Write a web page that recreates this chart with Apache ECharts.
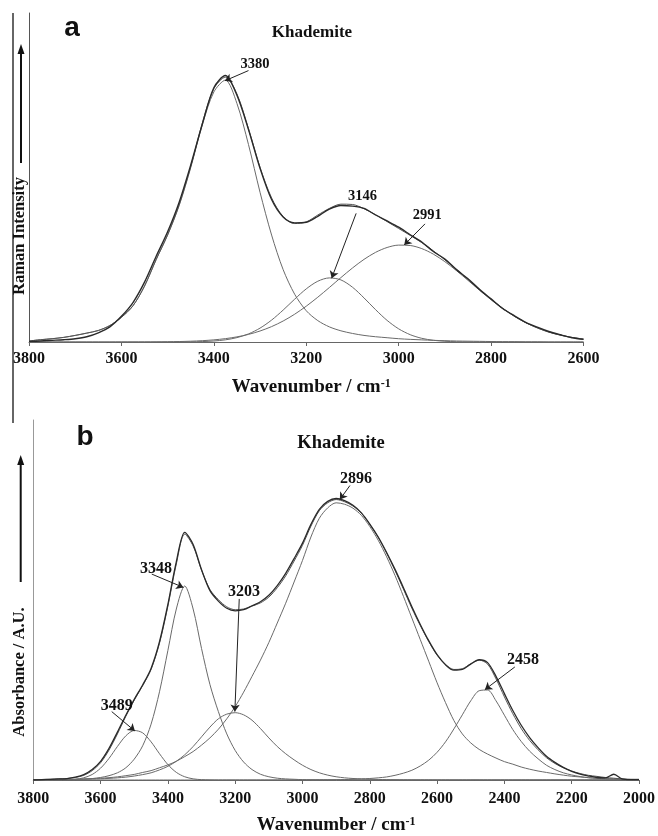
<!DOCTYPE html>
<html>
<head>
<meta charset="utf-8">
<script src="https://cdn.jsdelivr.net/npm/echarts@6/dist/echarts.min.js"></script>
<style>
html,body{margin:0;padding:0;background:#fff;}
#chart{width:658px;height:836px;}
</style>
</head>
<body>
<div id="chart"></div>
<script>
// ---------- Panel a : Raman spectrum ----------
const wavenumberA = [3800,3775,3750,3725,3700,3675,3650,3625,3600,3575,3550,3525,3500,3475,3450,3425,3400,3375,3350,3325,3300,3275,3250,3225,3200,3175,3150,3125,3100,3075,3050,3025,3000,2975,2950,2925,2900,2875,2850,2825,2800,2775,2750,2725,2700,2675,2650,2625,2600];
const ramanObserved = [0.2,0.3,0.5,0.7,1.0,1.6,2.8,4.6,7.8,12.0,18.2,26.0,33.5,42.5,53.8,66.2,77.3,81.0,75.0,64.6,52.8,43.3,38.0,36.2,36.4,38.2,40.4,41.5,41.3,40.6,38.6,36.8,34.9,32.6,30.4,27.5,25.2,22.0,19.2,16.0,13.1,10.2,8.0,6.0,4.5,3.2,2.2,1.3,0.8];
const ramanFit = [0.3,0.7,1.0,1.4,2.0,2.7,3.5,5.0,7.5,11.0,17.0,25.0,32.6,41.7,53.3,66.5,77.0,80.5,75.4,64.8,53.1,43.8,38.1,36.0,36.5,38.6,40.6,41.9,41.8,40.5,38.7,36.6,34.5,32.4,30.2,27.7,25.0,22.1,19.0,15.9,13.0,10.3,7.9,5.9,4.3,3.0,2.1,1.4,0.9];
const band3380 = [0.3,0.7,1.0,1.4,2.0,2.7,3.5,5.0,7.5,11.0,17.0,25.0,32.5,41.5,53.0,66.0,76.0,79.6,72.5,60.0,45.5,32.5,22.0,14.5,9.5,6.5,4.6,3.4,2.6,2.0,1.6,1.3,1.0,0.8,0.65,0.5,0.4,0.3,0.25,0.2,0.15,0.1,0.1,0.05,0.05,0,0,0,0];
const band3146 = [0,0,0,0,0,0,0,0,0,0,0,0,0,0.02,0.05,0.13,0.3,0.66,1.33,2.46,4.22,6.66,9.7,13.03,16.15,18.47,19.48,18.87,16.66,13.4,9.83,6.56,4.0,2.22,1.12,0.52,0.22,0.08,0.03,0.01,0,0,0,0,0,0,0,0,0];
const band2991 = [0,0,0,0,0,0,0,0,0.01,0.01,0.02,0.04,0.08,0.14,0.24,0.4,0.65,1.02,1.56,2.31,3.34,4.68,6.38,8.45,10.89,13.62,16.56,19.58,22.49,25.11,27.25,28.73,29.45,29.33,28.39,26.71,24.42,21.7,18.74,15.73,12.83,10.17,7.83,5.87,4.27,3.02,2.07,1.39,0.9];
const ticksA = [3800,3600,3400,3200,3000,2800,2600];
const peakNamesA = ['3380','3146','2991'];
const peakPosA = [[3376,79.4],[3145,19.4],[2988,29.5]];
const labelPosA = [[3311,84.5],[3078,44.4],[2938,38.4]];
const arrowStartA = [[3325,82.5],[3092,39.1],[2943,35.9]];

// ---------- Panel b : infrared spectrum ----------
const wavenumberB = [3800,3775,3750,3725,3700,3675,3650,3625,3600,3575,3550,3525,3500,3475,3450,3425,3400,3375,3350,3325,3300,3275,3250,3225,3200,3175,3150,3125,3100,3075,3050,3025,3000,2975,2950,2925,2900,2875,2850,2825,2800,2775,2750,2725,2700,2675,2650,2625,2600,2575,2550,2525,2500,2475,2450,2425,2400,2375,2350,2325,2300,2275,2250,2225,2200,2175,2150,2125,2100,2075,2050,2025,2000];
const absObserved = [0.0,0.1,0.2,0.3,0.4,0.8,1.5,2.9,5.2,8.8,13.3,18.0,22.4,26.4,31.0,38.4,48.8,60.6,68.8,65.4,58.4,52.6,49.7,47.7,47.0,47.3,48.4,49.5,51.3,54.0,57.4,61.5,65.8,71.0,75.2,77.4,78.2,77.6,76.3,74.2,71.1,67.5,63.2,58.5,53.4,48.1,43.2,38.7,34.8,32.0,30.5,30.7,32.2,33.4,32.6,28.8,24.0,19.3,15.2,11.8,9.0,6.6,4.9,3.5,2.4,1.6,1.1,0.7,0.6,1.6,0.3,0.1,0.1];
const absFit = [0.1,0.1,0.2,0.3,0.4,0.7,1.3,2.6,4.8,8.3,12.8,17.7,22.2,26.2,30.7,38.0,48.3,60.0,68.3,65.0,58.3,52.9,50.1,48.1,47.3,47.5,48.3,49.2,50.8,53.4,56.7,60.8,65.2,70.5,74.8,77.0,77.9,77.3,76.1,74.1,71.0,67.4,63.0,58.2,53.0,47.7,42.9,38.5,34.7,32.1,30.7,30.9,32.3,33.3,32.2,28.1,23.1,18.4,14.3,11.0,8.4,6.2,4.6,3.4,2.5,1.8,1.3,1.0,0.7,0.5,0.3,0.2,0.2];
const band3489 = [0,0,0.01,0.02,0.06,0.2,0.61,1.53,3.29,6.0,9.31,12.27,13.76,13.1,10.6,7.3,4.27,2.12,0.9,0.32,0.1,0.03,0,0,0,0,0,0,0,0,0,0,0,0,0,0,0,0,0,0,0,0,0,0,0,0,0,0,0,0,0,0,0,0,0,0,0,0,0,0,0,0,0,0,0,0,0,0,0,0,0,0,0];
const band3348 = [0.02,0.03,0.05,0.07,0.1,0.17,0.25,0.4,0.7,1.2,2.0,3.4,5.8,9.5,15.5,24.5,36.0,47.5,53.9,47.5,36.5,26.5,19.0,12.8,8.2,5.0,2.9,1.6,0.9,0.5,0.3,0.2,0.1,0.07,0.05,0.03,0.02,0,0,0,0,0,0,0,0,0,0,0,0,0,0,0,0,0,0,0,0,0,0,0,0,0,0,0,0,0,0,0,0,0,0,0,0];
const band3203 = [0.02,0.03,0.05,0.07,0.1,0.13,0.18,0.25,0.33,0.45,0.6,0.8,1.1,1.5,2.0,2.8,3.8,5.2,7.0,9.3,12.0,14.7,17.0,18.3,18.7,18.1,16.6,14.3,11.7,9.3,7.3,5.6,4.1,2.9,2.0,1.35,0.9,0.6,0.42,0.3,0.2,0.15,0.1,0.07,0.05,0.03,0.02,0.01,0,0,0,0,0,0,0,0,0,0,0,0,0,0,0,0,0,0,0,0,0,0,0,0,0];
const band2896 = [0.05,0.07,0.1,0.12,0.15,0.2,0.3,0.4,0.48,0.65,0.87,1.2,1.55,2.1,2.6,3.4,4.2,5.2,6.5,7.9,9.7,11.7,14.1,17.0,20.4,24.4,28.8,33.3,38.2,43.6,49.1,55.0,61.0,67.5,72.7,75.6,77.0,76.6,75.5,73.5,70.4,66.6,62.0,56.8,51.0,45.0,39.0,33.0,27.0,21.5,16.5,12.8,10.3,8.5,7.2,6.1,5.1,4.4,3.6,3.0,2.5,2.1,1.7,1.35,1.05,0.85,0.65,0.5,0.4,0.3,0.2,0.15,0.1];
const band2458 = [0,0,0,0,0,0,0,0,0,0,0,0,0,0,0,0,0,0,0,0,0,0,0,0,0,0,0,0,0,0,0,0,0,0,0.03,0.05,0.08,0.12,0.2,0.3,0.42,0.6,0.85,1.3,1.9,2.7,3.9,5.5,7.7,10.6,14.2,18.1,22.0,24.8,25.0,22.0,18.0,14.0,10.7,8.0,5.9,4.1,2.9,2.0,1.4,0.95,0.63,0.45,0.32,0.22,0.14,0.09,0.06];
const ticksB = [3800,3600,3400,3200,3000,2800,2600,2400,2200,2000];
const peakNamesB = ['3489','3348','3203','2896','2458'];
const peakPosB = [[3498,13.6],[3354,53.5],[3201,19.0],[2889,77.9],[2458,25.1]];
const labelPosB = [[3552,20.6],[3435,58.6],[3174,52.3],[2841,83.7],[2345,33.4]];
const arrowStartB = [[3567,19.0],[3448,57.2],[3188,50.3],[2859,81.8],[2369,31.4]];

// ---------- build ----------
const SERIF = '"Liberation Serif", "Times New Roman", serif';
const SANS = '"Liberation Sans", Arial, sans-serif';

function pairs(xs, ys){ return xs.map((x,i)=>[x, ys[i]]); }

function lineSeries(name, xs, ys, gi, color, width, z){
  return {
    name: name, type:'line', xAxisIndex:gi, yAxisIndex:gi,
    data: pairs(xs, ys), showSymbol:false, symbol:'none', smooth:0.3,
    lineStyle:{color:color, width:width}, z:z, silent:true
  };
}

function annotations(gi, names, peaks, labels, starts, fontSize){
  return {
    name:'annot'+gi, type:'line', xAxisIndex:gi, yAxisIndex:gi, data:[], silent:true,
    markLine:{
      silent:true, symbol:['none','arrow'], symbolSize:7,
      lineStyle:{color:'#222', width:1, type:'solid'},
      label:{show:false},
      data: peaks.map((p,i)=>[{coord:starts[i]},{coord:p}])
    },
    markPoint:{
      silent:true, symbol:'circle', symbolSize:0,
      label:{show:true, position:'inside', formatter:'{b}', color:'#111',
             fontFamily:SERIF, fontWeight:'bold', fontSize:fontSize},
      data: labels.map((l,i)=>({name:names[i], coord:l}))
    }
  };
}

function xAxis(gi, min, max, ticks, labelMargin, padLeft){
  return {
    type:'value', gridIndex:gi, min:min, max:max, interval:200, inverse:true,
    axisLine:{show:true, lineStyle:{color:'#666', width:1}},
    axisTick:{show:true, length:4, lineStyle:{color:'#666'}},
    axisLabel:{show:true, margin:labelMargin, color:'#111', fontFamily:SERIF, fontWeight:'bold', fontSize:16,
               showMinLabel:true, showMaxLabel:true,
               formatter: v => (ticks.indexOf(v) >= 0 ? String(v) : '')},
    splitLine:{show:false},
    name:'{t|Wavenumber / cm}{s|-1}', nameLocation:'middle', nameGap:36,
    nameTextStyle:{padding:[0,0,0,padLeft], rich:{
      t:{fontFamily:SERIF, fontWeight:'bold', fontSize:19, color:'#111'},
      s:{fontFamily:SERIF, fontWeight:'bold', fontSize:12, color:'#111', verticalAlign:'top'}
    }}
  };
}
function yAxis(gi, color){
  return {
    type:'value', gridIndex:gi, min:0, max:100,
    axisLine:{show:true, onZero:false, lineStyle:{color:color, width:1}},
    axisTick:{show:false}, axisLabel:{show:false}, splitLine:{show:false}
  };
}

const chart = echarts.init(document.getElementById('chart'), null, {renderer:'canvas'});
const option = {
  animation:false,
  backgroundColor:'#ffffff',
  textStyle:{fontFamily:SERIF},
  grid:[
    {left:29, right:74.5, top:13, height:329},
    {left:33.3, right:18.7, top:420, height:362}
  ],
  xAxis:[xAxis(0, 2600, 3800, ticksA, 9, 10), xAxis(1, 2000, 3800, ticksB, 11, 0)],
  yAxis:[yAxis(0, '#555'), yAxis(1, '#999')],
  series:[
    lineSeries('3380', wavenumberA, band3380, 0, '#6a6a6a', 1, 2),
    lineSeries('3146', wavenumberA, band3146, 0, '#6a6a6a', 1, 2),
    lineSeries('2991', wavenumberA, band2991, 0, '#6a6a6a', 1, 2),
    lineSeries('fit a', wavenumberA, ramanFit, 0, '#555', 1, 3),
    lineSeries('observed a', wavenumberA, ramanObserved, 0, '#2a2a2a', 1.4, 4),
    annotations(0, peakNamesA, peakPosA, labelPosA, arrowStartA, 14.5),

    lineSeries('3489', wavenumberB, band3489, 1, '#6a6a6a', 1, 2),
    lineSeries('3348', wavenumberB, band3348, 1, '#6a6a6a', 1, 2),
    lineSeries('3203', wavenumberB, band3203, 1, '#6a6a6a', 1, 2),
    lineSeries('2896', wavenumberB, band2896, 1, '#6a6a6a', 1, 2),
    lineSeries('2458', wavenumberB, band2458, 1, '#6a6a6a', 1, 2),
    lineSeries('fit b', wavenumberB, absFit, 1, '#555', 1, 3),
    lineSeries('observed b', wavenumberB, absObserved, 1, '#2a2a2a', 1.3, 4),
    annotations(1, peakNamesB, peakPosB, labelPosB, arrowStartB, 16)
  ],
  graphic:[
    {type:'line', shape:{x1:13, y1:13, x2:13, y2:423}, style:{stroke:'#333', lineWidth:1.5}},
    // panel a
    {type:'line', shape:{x1:21, y1:163, x2:21, y2:52}, style:{stroke:'#111', lineWidth:2}},
    {type:'polygon', shape:{points:[[17.5,54],[24.5,54],[21,44]]}, style:{fill:'#111'}},
    {type:'text', x:20, y:236, rotation:Math.PI/2,
     style:{text:'Raman Intensity', font:'bold 16.5px '+SERIF, fill:'#111', align:'center', verticalAlign:'middle'}},
    {type:'text', x:72, y:28, style:{text:'a', font:'bold 28px '+SANS, fill:'#111', align:'center', verticalAlign:'middle'}},
    {type:'text', x:312, y:33, style:{text:'Khademite', font:'bold 17px '+SERIF, fill:'#111', align:'center', verticalAlign:'middle'}},
    // panel b
    {type:'line', shape:{x1:20.7, y1:582, x2:20.7, y2:463}, style:{stroke:'#111', lineWidth:2}},
    {type:'polygon', shape:{points:[[17.2,465],[24.2,465],[20.7,455]]}, style:{fill:'#111'}},
    {type:'text', x:20, y:672, rotation:Math.PI/2,
     style:{text:'Absorbance / A.U.', font:'bold 16.5px '+SERIF, fill:'#111', align:'center', verticalAlign:'middle'}},
    {type:'text', x:85, y:437, style:{text:'b', font:'bold 28px '+SANS, fill:'#111', align:'center', verticalAlign:'middle'}},
    {type:'text', x:341, y:443, style:{text:'Khademite', font:'bold 18.5px '+SERIF, fill:'#111', align:'center', verticalAlign:'middle'}}
  ]
};
chart.setOption(option);
</script>
</body>
</html>
